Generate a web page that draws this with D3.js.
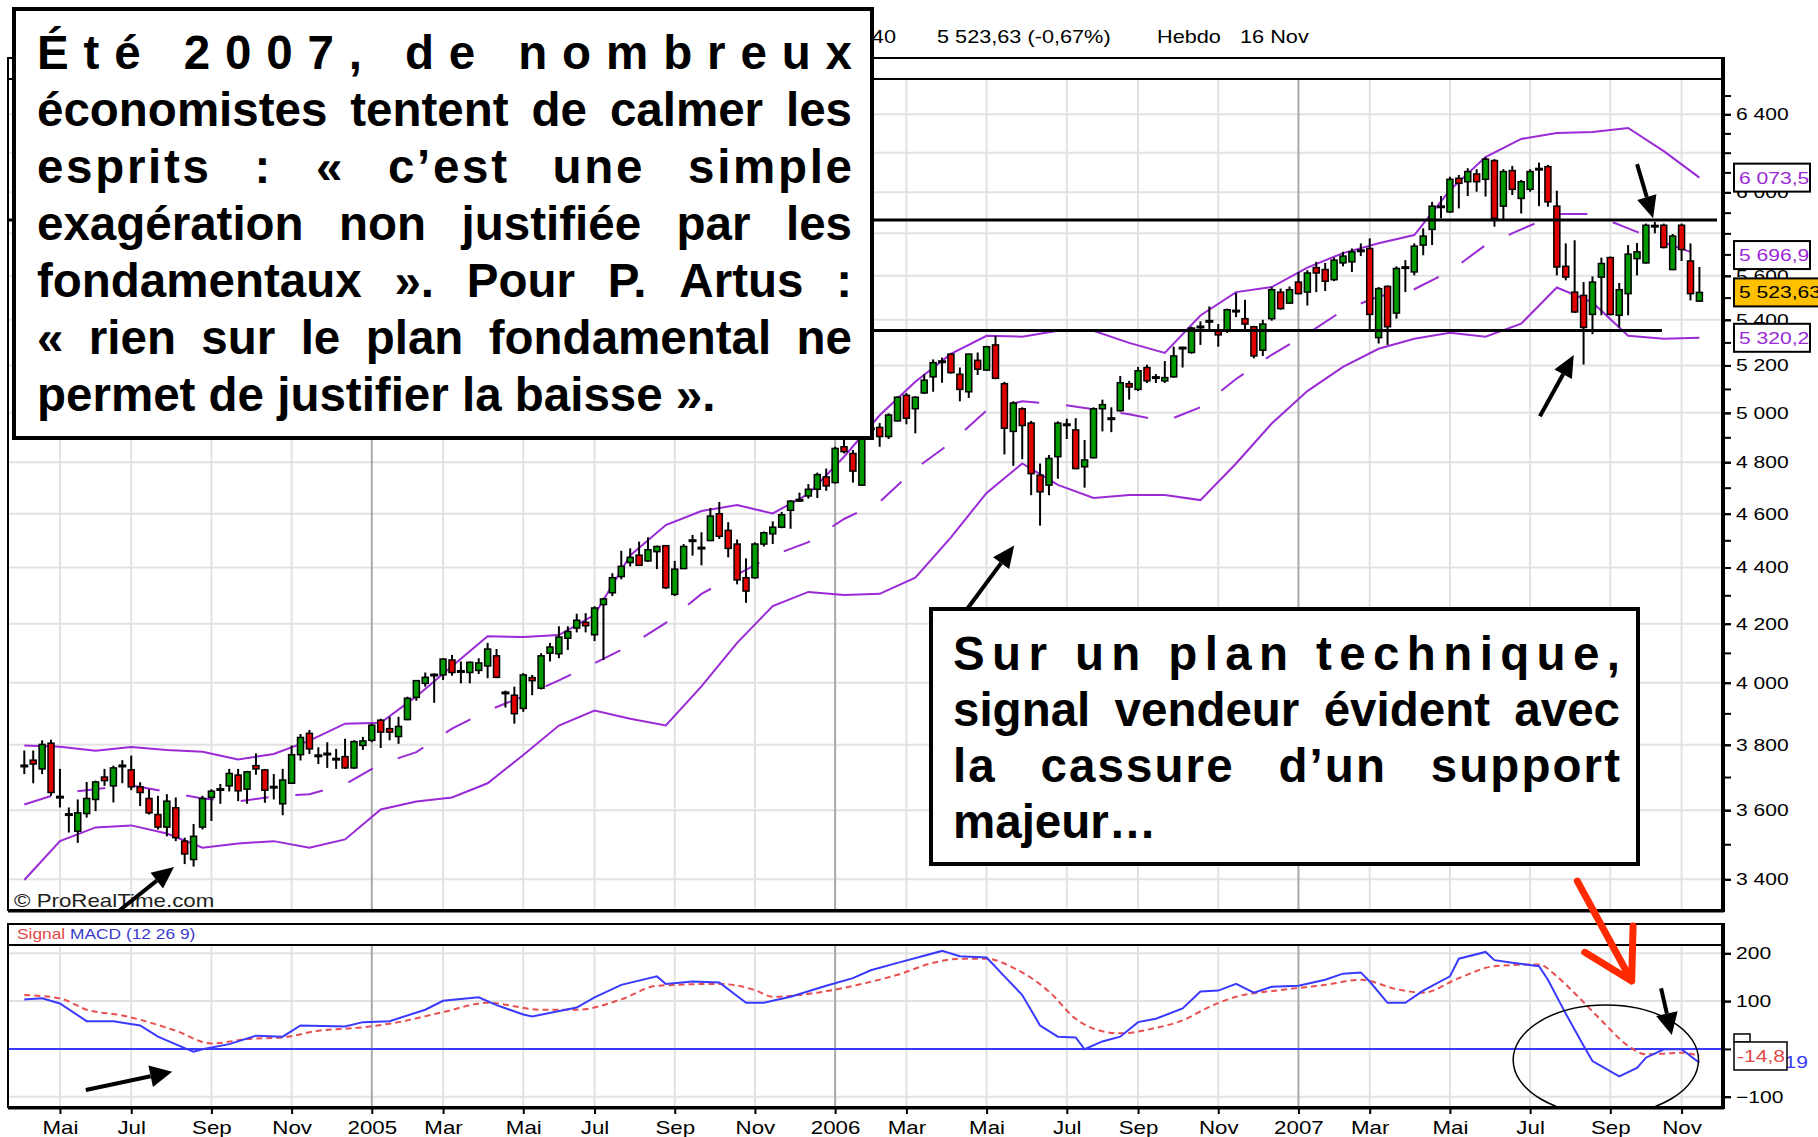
<!doctype html>
<html lang="fr">
<head>
<meta charset="utf-8">
<script src="https://cdn.jsdelivr.net/npm/d3@7"></script>
<style>
body { margin: 0; background: #fff; }
svg { display: block; }
text { font-family: "Liberation Sans", Arial, sans-serif; }
</style>
</head>
<body>
<svg id="chart" width="1818" height="1137"></svg>
<script>
//=============================== DATA ===================================
var firstWeek = new Date(2004, 3, 9)   // one candle per week, CAC 40 hebdo
var opens = [3737,3752,3725,3805,3642,3584,3538,3590,3632,3700,
	3673,3738,3722,3670,3635,3587,3550,3607,3509,3456,
	3550,3638,3661,3673,3706,3663,3735,3722,3670,3619,
	3681,3769,3836,3766,3770,3756,3763,3728,3798,3814,
	3878,3851,3826,3880,3952,3998,4024,4026,4076,4036,
	4034,4041,4056,4090,3965,3959,3916,4017,3982,4099,
	4097,4150,4185,4205,4162,4267,4309,4367,4418,4445,
	4424,4458,4480,4303,4396,4497,4470,4499,4600,4537,
	4486,4363,4363,4486,4524,4549,4613,4648,4668,4694,
	4742,4720,4862,4835,4710,4930,4940,4903,4967,5073,
	5017,5083,5151,5214,5249,5162,5088,5222,5180,5289,
	5122,4924,5017,4958,4749,4710,4822,4949,4930,4782,
	4818,5017,4974,5009,5122,5098,5191,5146,5134,5151,
	5273,5256,5363,5391,5348,5351,5437,5405,5369,5266,
	5405,5525,5475,5571,5525,5638,5629,5582,5660,5665,
	5715,5728,5321,5551,5430,5636,5618,5744,5819,5927,
	5904,6070,6053,6092,6065,6160,5932,6109,5970,6015,
	6114,6129,5932,5644,5525,5510,5424,5594,5685,5420,
	5518,5680,5660,5839,5839,5629,5839,5669,5484]
var highs = [3782,3782,3814,3816,3725,3608,3632,3685,3689,3725,
	3735,3752,3766,3684,3663,3643,3648,3638,3519,3559,
	3643,3663,3679,3725,3725,3719,3773,3725,3709,3725,
	3798,3834,3847,3792,3808,3787,3819,3814,3825,3867,
	3883,3889,3889,3954,4009,4034,4031,4082,4093,4071,
	4071,4082,4134,4113,3974,3987,4032,4026,4099,4134,
	4191,4191,4235,4237,4261,4291,4379,4461,4470,4495,
	4511,4480,4482,4424,4486,4520,4530,4622,4645,4568,
	4503,4433,4492,4533,4571,4607,4652,4681,4714,4759,
	4775,4862,4889,4849,4944,4965,4958,4998,5069,5083,
	5069,5162,5226,5234,5251,5191,5251,5256,5285,5329,
	5130,5048,5023,4967,4795,4829,4965,4976,4978,4889,
	5023,5055,5023,5155,5134,5194,5203,5163,5219,5281,
	5281,5369,5393,5460,5381,5450,5521,5490,5373,5400,
	5548,5541,5551,5618,5626,5665,5660,5685,5712,5728,
	5752,5776,5548,5556,5644,5673,5752,5824,5953,5982,
	6078,6087,6121,6116,6177,6167,6116,6133,6062,6116,
	6149,6138,6008,5752,5767,5571,5597,5685,5690,5567,
	5744,5754,5847,5855,5847,5797,5847,5752,5641]
var lows = [3709,3681,3709,3643,3608,3534,3504,3578,3597,3673,
	3623,3681,3660,3612,3587,3543,3523,3509,3443,3436,
	3543,3568,3619,3656,3627,3619,3707,3622,3632,3585,
	3679,3751,3771,3740,3728,3725,3725,3725,3784,3808,
	3790,3814,3803,3878,3941,3987,3934,4009,4023,3998,
	3998,4029,4015,4015,3919,3867,3905,3959,3978,4071,
	4082,4110,4170,4170,4140,4076,4297,4357,4404,4405,
	4420,4394,4322,4297,4394,4443,4408,4497,4505,4437,
	4339,4273,4359,4477,4486,4545,4543,4645,4658,4660,
	4688,4716,4835,4720,4707,4905,4862,4893,4965,4953,
	4916,5079,5088,5126,5165,5048,5062,5159,5177,5141,
	4831,4786,4812,4671,4555,4671,4735,4893,4772,4700,
	4815,4924,4921,5005,5055,5091,5125,5125,5125,5148,
	5191,5251,5289,5358,5281,5342,5412,5358,5231,5241,
	5396,5445,5472,5515,5464,5525,5530,5575,5644,5618,
	5692,5351,5295,5289,5405,5525,5602,5696,5744,5873,
	5899,5921,5982,6003,5979,5832,5861,5987,5896,6003,
	5932,5929,5602,5579,5430,5204,5336,5420,5420,5366,
	5420,5602,5657,5800,5728,5626,5669,5487,5480]
var closes = [3731,3740,3801,3653,3636,3590,3592,3635,3685,3689,
	3728,3730,3670,3653,3592,3550,3627,3519,3472,3523,
	3635,3657,3663,3711,3658,3716,3725,3660,3668,3691,
	3769,3823,3787,3765,3772,3754,3728,3810,3812,3862,
	3840,3840,3858,3949,4007,4018,4027,4079,4034,4039,
	4068,4066,4113,4018,3968,3899,4026,4007,4090,4120,
	4154,4173,4212,4193,4255,4287,4363,4404,4437,4408,
	4465,4477,4327,4394,4477,4500,4472,4591,4515,4470,
	4355,4315,4486,4528,4549,4596,4648,4655,4694,4751,
	4707,4855,4842,4765,4932,4940,4903,4991,5065,4978,
	5065,5137,5212,5218,5169,5098,5249,5184,5281,5145,
	4937,5041,4948,4755,4684,4815,4958,4953,4775,4809,
	5017,5034,4978,5126,5108,5177,5134,5150,5148,5241,
	5277,5363,5373,5395,5333,5445,5441,5381,5241,5381,
	5536,5450,5536,5518,5613,5613,5575,5673,5692,5712,
	5719,5424,5541,5369,5634,5640,5739,5787,5932,5931,
	6065,6045,6104,6053,6167,5873,6104,6015,6053,6104,
	6118,5953,5641,5594,5435,5366,5571,5657,5424,5536,
	5701,5712,5839,5830,5733,5787,5723,5518,5523.63]

// bollinger (20, 2) read every 4 weeks
var bandStep = 4
var bbUpper = [3798,3794,3781,3793,3784,3778,3754,3771,3813,3867,3870,3955,4055,4157,4154,4161,
	4231,4444,4557,4610,4633,4601,4676,4822,4990,5130,5250,5329,5325,5351,5351,5298,
	5254,5419,5525,5548,5638,5706,5753,5792,6011,6178,6271,6302,6307,6328,6208,6073.5]
var bbMid = [3617,3651,3663,3675,3655,3635,3626,3641,3648,3678,3740,3777,3851,3909,3955,4008,
	4065,4125,4203,4305,4374,4444,4493,4580,4645,4774,4878,5010,5048,5036,5015,4994,
	4965,5023,5142,5246,5338,5442,5505,5538,5621,5744,5819,5893,5893,5824,5757,5696.9]
var bbLower = [3398,3509,3549,3555,3531,3490,3502,3509,3490,3514,3602,3626,3638,3681,3768,3861,
	3909,3883,3861,3988,4134,4262,4312,4301,4305,4363,4511,4680,4795,4711,4660,4672,
	4672,4652,4795,4956,5091,5194,5272,5316,5342,5325,5383,5546,5478,5329,5316,5320.2]

// MACD (12 26 9) : week index / value
var macdBars = [0,2,4,7,10,13,15,18,19,20,23,26,29,31,36,38,41,45,47,51,53,56,57,62,64,67,71,72,75,78,
	81,83,86,90,93,95,98,103,105,108,110,112,114,116,118,119,121,123,125,127,130,132,134,136,138,
	140,143,146,148,150,151,153,155,157,160,161,164,165,167,170,171,173,175,176,179,181,182,184,186,188]
var macdVals = [103.6,106,95,58,58,49,25.5,1.5,-5.7,-0.6,10,27.7,25.5,49,46.8,56,58,82,100.7,108,
	91.5,72,68,86.6,108,134,151.7,136,141,139,96.4,96.4,109,132,148,164.5,180,205,194,191,
	151.7,112.8,49,25.5,24,-0.7,15.6,25.5,56,63,84.5,120,122,136,117.7,130,132,144.7,157.4,160,
	141,96.4,96.4,122,151.7,188.7,202.8,185.7,180,173,144.7,73.8,6.4,-25.5,-57.4,-39.7,-18.4,-0.7,-0.7,-29]
var signalBars = [0,4,7,11,13,17,21,25,29,33,38,42,47,52,58,62,67,71,78,82,84,89,94,98,102,105,108,
	111,115,118,121,123,127,130,133,136,141,146,150,154,157,161,165,170,172,174,177,180,182,184,186,188]
var signalVals = [112.8,105.7,82,70,61,38,11.3,20.6,24,38,45,56,77,96.4,82,82,103.6,132,136,123,
	109,117.7,136,155,180,188.7,188.7,169.6,120,63,36.8,32.6,44,59.6,87.9,109,123,134,144.7,125,
	117.7,148,173,176.6,151.7,116.4,59.6,6.4,-11.3,-10,-7.9,-14.8]

var priceLabels = [3400,3600,3800,4000,4200,4400,4600,4800,5000,5200,5400,5600,6000,6400]
var macdLabels = [200, 100, -100]
var monthNames = ['Jan','Fév','Mar','Avr','Mai','Juin','Jul','Aoû','Sep','Oct','Nov','Déc']

var lastChange = -0.67
var bandLast = [6073.5, 5696.9, 5320.2]
var signalLast = -14.8, macdLast = -28.19
var resistance = 5864, support = 5352

var quote = ['Été 2007, de nombreux', 'économistes tentent de calmer les', 'esprits : « c’est une simple',
	'exagération non justifiée par les', 'fondamentaux ». Pour P. Artus :', '« rien sur le plan fondamental ne',
	'permet de justifier la baisse ».']
var comment = ['Sur un plan technique,', 'signal vendeur évident avec', 'la cassure d’un support', 'majeur…']

//=============================== SCALES ===================================
var svg = d3.select('#chart')
var left = 8, right = 1723
var mainTop = 58, mainHead = 79, mainBottom = 910
var macdTop = 924, macdHead = 945, macdBottom = 1107
var SX = 1.24   // the screenshot is stretched horizontally

var n = closes.length
var x = d3.scaleLinear().domain([0, n - 1]).range([24.3, 1699.4])
var y = d3.scaleLog().domain([3400, 6400]).range([879.3, 114.3])
var ym = d3.scaleLinear().domain([-100, 200]).range([1096.7, 953.3])
var dates = closes.map((c, i) => d3.timeDay.offset(firstWeek, 7 * i))

var fr = d3.formatLocale({decimal: ',', thousands: ' ', grouping: [3], currency: ['', ''], minus: '-'})
var fmtAxis = fr.format(',d'), fmt1 = fr.format(',.1f'), fmt2 = fr.format(',.2f')

var monthTicks = []
dates.forEach((d, i) => {
	if (i == 0 || d.getMonth() == dates[i - 1].getMonth()) return
	if (d.getMonth() % 2 == 0) monthTicks.push(i)
})
var monthLabel = i => dates[i].getMonth() == 0 ? dates[i].getFullYear() : monthNames[dates[i].getMonth()]

function stext(g, tx, ty, str, size, anchor, color) {
	return g.append('text').attr('transform', 'translate(' + tx + ',' + ty + ') scale(' + SX + ',1)')
		.attr('font-size', size).attr('text-anchor', anchor || 'start').attr('fill', color || '#000').text(str)
}

//=============================== FRAMES / GRID ===================================
var defs = svg.append('defs')
defs.append('clipPath').attr('id', 'clipMain').append('rect')
	.attr('x', left + 1).attr('y', mainHead + 1).attr('width', right - left - 2).attr('height', mainBottom - mainHead - 2)
defs.append('clipPath').attr('id', 'clipMacd').append('rect')
	.attr('x', left + 1).attr('y', macdHead + 1).attr('width', right - left - 2).attr('height', macdBottom - macdHead - 2)

var head = svg.append('g')
stext(head, 820, 43, 'CAC 40', 17.5)
stext(head, 937, 43, fmt2(closes[n - 1]) + ' (' + fr.format('.2f')(lastChange) + '%)', 17.5)
stext(head, 1157, 43, 'Hebdo', 17.5)
stext(head, 1240, 43, dates[n - 1].getDate() + ' ' + monthNames[dates[n - 1].getMonth()], 17.5)

var grid = svg.append('g')
var gm = grid.append('g').attr('clip-path', 'url(#clipMain)')
gm.selectAll('line.h').data(d3.range(3400, 6401, 200)).enter().append('line')
	.attr('x1', left).attr('x2', right).attr('y1', d => y(d)).attr('y2', d => y(d))
	.attr('stroke', '#e2e2e2').attr('stroke-width', 2)
var gq = grid.append('g').attr('clip-path', 'url(#clipMacd)')
gq.selectAll('line.h').data([200, 100, -100]).enter().append('line')
	.attr('x1', left).attr('x2', right).attr('y1', d => ym(d)).attr('y2', d => ym(d))
	.attr('stroke', '#e2e2e2').attr('stroke-width', 2)
;[[gm, mainHead, mainBottom], [gq, macdHead, macdBottom]].forEach(p => {
	p[0].selectAll('line.v').data(monthTicks).enter().append('line')
		.attr('x1', d => x(d)).attr('x2', d => x(d)).attr('y1', p[1]).attr('y2', p[2])
		.attr('stroke', d => dates[d].getMonth() == 0 ? '#a9a9a9' : '#e2e2e2').attr('stroke-width', 2)
})

//=============================== PRICE PANEL ===================================
var plot = svg.append('g').attr('clip-path', 'url(#clipMain)')
var purple = '#9a2ad6'
var bandLine = d3.line().x((d, k) => x(k * bandStep)).y(d => y(d))
plot.append('path').attr('d', bandLine(bbUpper)).attr('fill', 'none').attr('stroke', purple).attr('stroke-width', 2)
plot.append('path').attr('d', bandLine(bbLower)).attr('fill', 'none').attr('stroke', purple).attr('stroke-width', 2)
plot.append('path').attr('d', bandLine(bbMid)).attr('fill', 'none').attr('stroke', purple).attr('stroke-width', 2)
	.attr('stroke-dasharray', '28,27')

var candles = plot.selectAll('g.candle').data(closes).enter().append('g')
candles.append('line').attr('x1', (d, i) => x(i)).attr('x2', (d, i) => x(i))
	.attr('y1', (d, i) => y(highs[i])).attr('y2', (d, i) => y(lows[i]))
	.attr('stroke', '#000').attr('stroke-width', 2)
candles.append('rect')
	.each(function(c, i) {
		var o = opens[i], top = y(Math.max(o, c)), h = Math.abs(y(o) - y(c))
		var r = d3.select(this)
		if (h < 3) {
			r.attr('x', x(i) - 4).attr('width', 8).attr('y', (y(o) + y(c)) / 2 - 1.5).attr('height', 3).attr('fill', '#000')
		} else {
			r.attr('x', x(i) - 3).attr('width', 6).attr('y', top).attr('height', h)
				.attr('fill', c >= o ? '#009a00' : '#e00000').attr('stroke', '#000').attr('stroke-width', 1.5)
		}
	})

plot.append('line').attr('x1', left).attr('x2', 1717).attr('y1', y(resistance)).attr('y2', y(resistance))
	.attr('stroke', '#000').attr('stroke-width', 3)
plot.append('line').attr('x1', x(44.7)).attr('x2', x(183.8)).attr('y1', y(support)).attr('y2', y(support))
	.attr('stroke', '#000').attr('stroke-width', 3)
stext(svg, 14, 907, '© ProRealTime.com', 18, 'start', '#222')

// frame
svg.append('rect').attr('x', left).attr('y', mainTop).attr('width', right - left).attr('height', mainBottom - mainTop)
	.attr('fill', 'none').attr('stroke', '#000').attr('stroke-width', 2)
svg.append('line').attr('x1', left).attr('x2', right).attr('y1', mainHead).attr('y2', mainHead).attr('stroke', '#000').attr('stroke-width', 2)
svg.append('line').attr('x1', left).attr('x2', right + 1).attr('y1', mainBottom + 1).attr('y2', mainBottom + 1).attr('stroke', '#000').attr('stroke-width', 3)

function styleAxis(g) {
	g.select('.domain').remove()
	g.selectAll('.tick line').attr('stroke', '#000').attr('stroke-width', 2)
	g.selectAll('.tick text').attr('x', 13 / SX).attr('transform', 'scale(' + SX + ',1)')
		.attr('font-size', 17).attr('fill', '#000').attr('font-family', '"Liberation Sans", Arial, sans-serif')
}
svg.append('g').attr('transform', 'translate(' + right + ',0)')
	.call(d3.axisRight(y).tickValues(d3.range(3400, 6501, 100)).tickSize(8).tickFormat('')).call(styleAxis)
svg.append('g').attr('transform', 'translate(' + right + ',0)')
	.call(d3.axisRight(y).tickValues(priceLabels).tickSize(8).tickFormat(fmtAxis)).call(styleAxis)
svg.append('line').attr('x1', right).attr('x2', right).attr('y1', mainTop - 1).attr('y2', mainBottom + 2)
	.attr('stroke', '#000').attr('stroke-width', 4)

function valueBox(v, txt, color, fill, yscale, w) {
	var yy = yscale(v)
	svg.append('rect').attr('x', 1734).attr('y', yy - 14).attr('width', w || 76).attr('height', 28)
		.attr('fill', fill).attr('stroke', '#000').attr('stroke-width', 2)
	stext(svg, 1739, yy + 6, txt, 17, 'start', color)
}
bandLast.forEach(v => valueBox(v, fmt1(v), purple, '#fff', y))
valueBox(closes[n - 1], fmt2(closes[n - 1]), '#000', '#ffc000', y, 90)

//=============================== MACD PANEL ===================================
var mp = svg.append('g').attr('clip-path', 'url(#clipMacd)')
mp.append('line').attr('x1', left).attr('x2', right).attr('y1', ym(0)).attr('y2', ym(0))
	.attr('stroke', '#3a3aff').attr('stroke-width', 2)
var sigLine = d3.line().x(d => x(d[0])).y(d => ym(d[1])).curve(d3.curveMonotoneX)
var macdLine = d3.line().x(d => x(d[0])).y(d => ym(d[1]))
mp.append('path').attr('d', sigLine(signalBars.map((b, k) => [b, signalVals[k]])))
	.attr('fill', 'none').attr('stroke', '#e85050').attr('stroke-width', 2).attr('stroke-dasharray', '6,4')
mp.append('path').attr('d', macdLine(macdBars.map((b, k) => [b, macdVals[k]])))
	.attr('fill', 'none').attr('stroke', '#3a3aff').attr('stroke-width', 2)

svg.append('rect').attr('x', left).attr('y', macdTop).attr('width', right - left).attr('height', macdBottom - macdTop)
	.attr('fill', 'none').attr('stroke', '#000').attr('stroke-width', 2)
svg.append('line').attr('x1', left).attr('x2', right).attr('y1', macdHead).attr('y2', macdHead).attr('stroke', '#000').attr('stroke-width', 2)
svg.append('line').attr('x1', left).attr('x2', right + 1).attr('y1', macdBottom + 1).attr('y2', macdBottom + 1).attr('stroke', '#000').attr('stroke-width', 3)
var mh = stext(svg, 17, 939, '', 14)
mh.append('tspan').attr('fill', '#e04848').text('Signal ')
mh.append('tspan').attr('fill', '#3a3ad0').text('MACD (12 26 9)')

svg.append('g').attr('transform', 'translate(' + right + ',0)')
	.call(d3.axisRight(ym).tickValues([200, 100, 0, -100]).tickSize(8).tickFormat('')).call(styleAxis)
svg.append('g').attr('transform', 'translate(' + right + ',0)')
	.call(d3.axisRight(ym).tickValues(macdLabels).tickSize(8).tickFormat(d3.format('d'))).call(styleAxis)
svg.append('line').attr('x1', right).attr('x2', right).attr('y1', macdTop - 1).attr('y2', macdBottom + 2)
	.attr('stroke', '#000').attr('stroke-width', 4)

stext(svg, 1808, ym(macdLast) + 6, fr.format('.2f')(macdLast), 17, 'end', '#3a3aff')
svg.append('rect').attr('x', 1734).attr('y', ym(signalLast) - 22).attr('width', 16).attr('height', 8)
	.attr('fill', '#fff').attr('stroke', '#000').attr('stroke-width', 1.5)
svg.append('rect').attr('x', 1734).attr('y', ym(signalLast) - 14).attr('width', 53).attr('height', 28)
	.attr('fill', '#fff').attr('stroke', '#000').attr('stroke-width', 1.5)
stext(svg, 1737, ym(signalLast) + 6, fmt1(signalLast), 17, 'start', '#e04848')

// time axis
svg.append('g').attr('transform', 'translate(0,' + macdBottom + ')')
	.call(d3.axisBottom(x).tickValues(monthTicks).tickSize(7).tickPadding(7).tickFormat(monthLabel))
	.call(g => {
		g.select('.domain').remove()
		g.selectAll('.tick line').attr('stroke', '#000').attr('stroke-width', 2)
		g.selectAll('.tick text').attr('transform', 'scale(' + SX + ',1)').attr('font-size', 18)
			.attr('fill', '#000').attr('font-family', '"Liberation Sans", Arial, sans-serif')
	})

//=============================== ANNOTATIONS ===================================
var ann = svg.append('g')
function arrow(x1, y1, x2, y2, w, hl, hw, color) {
	var dx = x2 - x1, dy = y2 - y1, len = Math.hypot(dx, dy), ux = dx / len, uy = dy / len
	var bx = x2 - ux * hl, by = y2 - uy * hl
	ann.append('line').attr('x1', x1).attr('y1', y1).attr('x2', bx).attr('y2', by)
		.attr('stroke', color).attr('stroke-width', w)
	ann.append('path').attr('d', 'M' + x2 + ',' + y2 + 'L' + (bx - uy * hw) + ',' + (by + ux * hw) + 'L' + (bx + uy * hw) + ',' + (by - ux * hw) + 'Z')
		.attr('fill', color)
}
// [bar, price, bar, price]
;[[10.7, 3314, 16.8, 3435], [105.9, 4255, 111.1, 4481], [181.0, 6142, 182.8, 5873], [170.1, 4986, 173.9, 5245]]
	.forEach(a => arrow(x(a[0]), y(a[1]), x(a[2]), y(a[3]), 4, 22, 10, '#000'))
;[[6.9, -86, 16.6, -47.7], [183.7, 126.8, 184.9, 29]]
	.forEach(a => arrow(x(a[0]), ym(a[1]), x(a[2]), ym(a[3]), 4, 22, 11, '#000'))

// circled crossing
mp.append('ellipse').attr('cx', x(177.5)).attr('cy', ym(-23)).attr('rx', x(10.4) - x(0)).attr('ry', ym(-23) - ym(92))
	.attr('fill', 'none').attr('stroke', '#000').attr('stroke-width', 1.5)

// red arrow
;(function() {
	var x1 = x(174.3), y1 = ym(351), x2 = x(180.4), y2 = ym(142)
	var len = Math.hypot(x2 - x1, y2 - y1), ux = (x1 - x2) / len, uy = (y1 - y2) / len, a = Math.PI / 6, L = 55
	var arms = [a, -a].map(t => [x2 + L * (ux * Math.cos(t) - uy * Math.sin(t)), y2 + L * (ux * Math.sin(t) + uy * Math.cos(t))])
	ann.append('path').attr('d', 'M' + x1 + ',' + y1 + 'L' + x2 + ',' + y2 + 'M' + arms[0] + 'L' + x2 + ',' + y2 + 'L' + arms[1])
		.attr('fill', 'none').attr('stroke', '#ff2a00').attr('stroke-width', 7).attr('stroke-linecap', 'round').attr('stroke-linejoin', 'round')
})()

// justified text: word spacing first, letter spacing when the line is very short
function justify(g, lines, x0, x1, y0, lh, size) {
	var width = x1 - x0
	lines.forEach(function(line, li) {
		var yy = y0 + li * lh
		var t = g.append('text').attr('x', x0).attr('y', yy).attr('font-size', size).attr('font-weight', 'bold').text(line)
		if (li == lines.length - 1) return
		var words = line.split(' '), gaps = words.length - 1
		var extra = width - t.node().getComputedTextLength()
		if (extra / gaps > size) {
			t.attr('textLength', width).attr('lengthAdjust', 'spacing')
			return
		}
		t.remove()
		var ls = extra / gaps > size * 0.5 ? extra * 0.35 / (line.length - 1) : 0
		var spans = words.map(w => g.append('text').attr('y', yy).attr('font-size', size).attr('font-weight', 'bold').text(w))
		var widths = spans.map((s, k) => s.node().getComputedTextLength() + ls * (words[k].length - 1))
		spans.forEach(s => s.attr('letter-spacing', ls))
		var gap = (width - d3.sum(widths)) / gaps, cx = x0
		spans.forEach((s, k) => { s.attr('x', cx); cx += widths[k] + gap })
	})
}
var box1 = svg.append('g')
box1.append('rect').attr('x', 14).attr('y', 9).attr('width', 858).attr('height', 429)
	.attr('fill', '#fff').attr('stroke', '#000').attr('stroke-width', 4)
justify(box1, quote, 37, 852, 69, 57, 47.5)

var box2 = svg.append('g')
box2.append('rect').attr('x', 931).attr('y', 609).attr('width', 707).attr('height', 255)
	.attr('fill', '#fff').attr('stroke', '#000').attr('stroke-width', 4)
justify(box2, comment, 953, 1620, 670, 56, 47.5)
</script>
</body>
</html>
